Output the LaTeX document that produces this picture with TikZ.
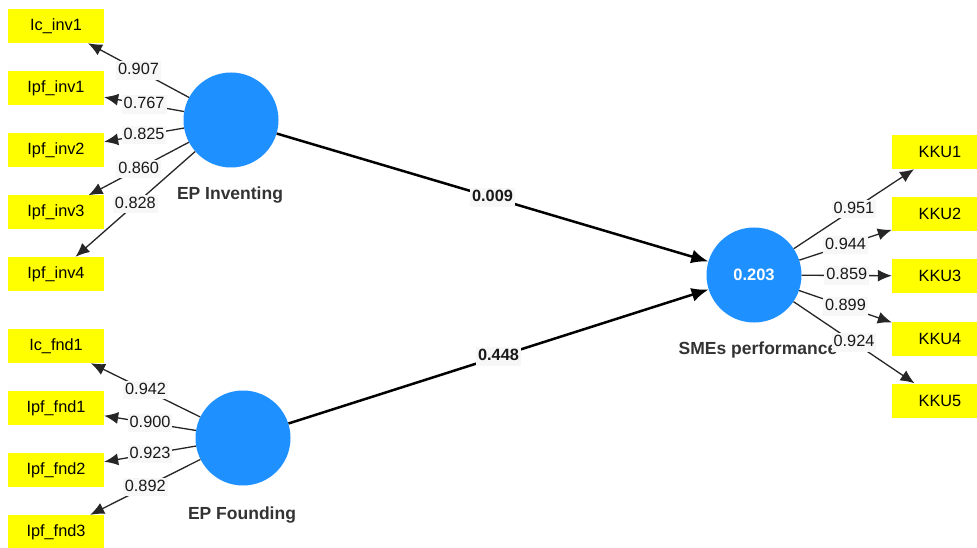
\documentclass[tikz,border=0pt]{standalone}
\usepackage{fontspec}
\setmainfont{Liberation Sans}
\usetikzlibrary{arrows.meta}
\definecolor{latentblue}{RGB}{30,144,255}
\definecolor{indyellow}{RGB}{255,255,0}
\definecolor{labelbg}{RGB}{247,247,247}
\begin{document}
\begin{tikzpicture}[x=1pt,y=-1pt,
  indicator/.style={fill=indyellow, minimum width=96pt, minimum height=34pt, inner sep=0pt,
    font=\fontsize{16.3}{19}\selectfont},
  latent/.style={circle, fill=latentblue, minimum size=95pt, inner sep=0pt,
    font=\bfseries\fontsize{16.5}{20}\selectfont, text=white},
  lvname/.style={font=\bfseries\fontsize{17.5}{21}\selectfont, text=black!80},
  loading/.style={draw=black!85, line width=1.3pt, -{Latex[length=14pt,width=12pt]}},
  pathcoef/.style={draw=black, line width=2.5pt, -{Latex[length=17pt,width=14pt]}},
  weight/.style={fill=labelbg, inner sep=2pt, text height=11.5pt, text depth=3pt,
    font=\fontsize{16.3}{19}\selectfont, text=black!90},
  pweight/.style={weight, font=\bfseries\fontsize{16.3}{19}\selectfont}]

\useasboundingbox[fill=white] (0,0) rectangle (977,548);

% latent variables
\node[latent] (inv) at (231,120) {};
\node[latent] (fnd) at (243,438) {};
\node[latent] (sme) at (754,275) {0.203};

\node[lvname] (invname) at (230,195) {EP Inventing};
\node[lvname] (fndname) at (242,515) {EP Founding};
\node[lvname] (smename) at (758,350) {SMEs performance};

% indicators of EP Inventing
\node[indicator] (ic_inv1)  at (56,26)    {Ic\_inv1};
\node[indicator] (ipf_inv1) at (56,88.5)  {Ipf\_inv1};
\node[indicator] (ipf_inv2) at (56,150)   {Ipf\_inv2};
\node[indicator] (ipf_inv3) at (56,212.5) {Ipf\_inv3};
\node[indicator] (ipf_inv4) at (56,274)   {Ipf\_inv4};

% indicators of EP Founding
\node[indicator] (ic_fnd1)  at (56,346) {Ic\_fnd1};
\node[indicator] (ipf_fnd1) at (56,408) {Ipf\_fnd1};
\node[indicator] (ipf_fnd2) at (56,470) {Ipf\_fnd2};
\node[indicator] (ipf_fnd3) at (56,532) {Ipf\_fnd3};

% indicators of SMEs performance
\node[indicator] (kku1) at (940,152)   {KKU1};
\node[indicator] (kku2) at (940,214)   {KKU2};
\node[indicator] (kku3) at (940,276)   {KKU3};
\node[indicator] (kku4) at (940,339)   {KKU4};
\node[indicator] (kku5) at (940,400.5) {KKU5};

% outer loadings
\draw[loading] (inv) -- node[weight] {0.907} (ic_inv1);
\draw[loading] (inv) -- node[weight] {0.767} (ipf_inv1);
\draw[loading] (inv) -- node[weight] {0.825} (ipf_inv2);
\draw[loading] (inv) -- node[weight] {0.860} (ipf_inv3);
\draw[loading] (inv) -- node[weight] {0.828} (ipf_inv4);

\draw[loading] (fnd) -- node[weight] {0.942} (ic_fnd1);
\draw[loading] (fnd) -- node[weight] {0.900} (ipf_fnd1);
\draw[loading] (fnd) -- node[weight] {0.923} (ipf_fnd2);
\draw[loading] (fnd) -- node[weight] {0.892} (ipf_fnd3);

\draw[loading] (sme) -- node[weight] {0.951} (kku1);
\draw[loading] (sme) -- node[weight] {0.944} (kku2);
\draw[loading] (sme) -- node[weight] {0.859} (kku3);
\draw[loading] (sme) -- node[weight] {0.899} (kku4);
\draw[loading] (sme) -- node[weight] {0.924} (kku5);

% structural paths
\draw[pathcoef] (inv) -- node[pweight] {0.009} (sme);
\draw[pathcoef] (fnd) -- node[pweight] {0.448} (sme);
\end{tikzpicture}
\end{document}
